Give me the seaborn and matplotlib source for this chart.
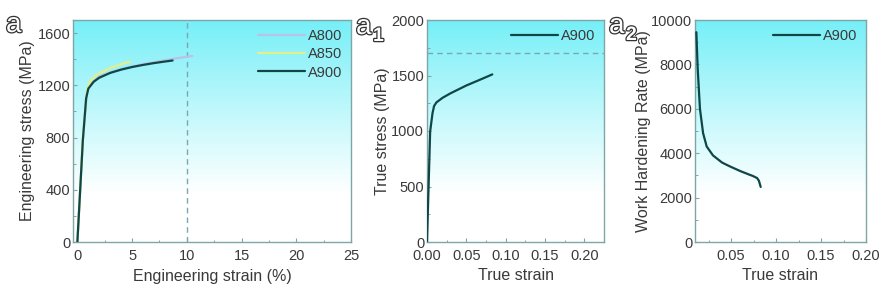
import numpy as np
import pandas as pd
import matplotlib
matplotlib.use("Agg")
import matplotlib.pyplot as plt
import matplotlib.patheffects as pe
from matplotlib.colors import LinearSegmentedColormap
from matplotlib.ticker import AutoMinorLocator
import seaborn as sns

# ---- data ----
eng_strain_a800 = [0, 0.5, 0.85, 1.1, 2.0, 4.0, 6.0, 8.0, 9.0, 10.5]
eng_stress_a800 = [0, 780, 1130, 1200, 1270, 1325, 1362, 1392, 1406, 1425]
eng_strain_a850 = [0, 0.5, 0.85, 1.1, 1.5, 2.0, 3.0, 4.0, 4.8]
eng_stress_a850 = [0, 790, 1150, 1222, 1262, 1292, 1332, 1362, 1382]
eng_strain_a900 = [0, 0.5, 0.8, 1.0, 1.5, 2.0, 3.0, 4.0, 5.0, 6.0, 7.0, 8.0, 8.7]
eng_stress_a900 = [0, 780, 1100, 1175, 1228, 1258, 1295, 1320, 1340, 1356, 1370, 1382, 1390]

true_strain_a900 = [0, 0.004, 0.007, 0.009, 0.012, 0.02, 0.03, 0.05, 0.07, 0.083]
true_stress_a900 = [0, 995, 1160, 1225, 1258, 1300, 1340, 1410, 1470, 1510]

whr_strain_a900 = [0.0115, 0.013, 0.0155, 0.019, 0.023, 0.03, 0.04, 0.048, 0.06, 0.07, 0.0745, 0.079, 0.081, 0.083]
whr_rate_a900 = [9450, 7800, 6000, 4900, 4300, 3900, 3580, 3420, 3200, 3040, 2970, 2880, 2760, 2480]

eng_xticks = [0, 5, 10, 15, 20, 25]
eng_yticks = [0, 400, 800, 1200, 1600]
true_xticks = [0.00, 0.05, 0.10, 0.15, 0.20]
true_yticks = [0, 500, 1000, 1500, 2000]
whr_xticks = [0.05, 0.10, 0.15, 0.20]
whr_yticks = [0, 2000, 4000, 6000, 8000, 10000]

sns.set_style("ticks")
plt.rcParams['font.family'] = ['Liberation Sans', 'DejaVu Sans']

SPINE = "#7fa6a6"
TXT = "#3a3a3a"
LINE = "#0f4646"
palette = {"A800": "#b9c2e8", "A850": "#e2f08a", "A900": LINE}
TICK_FS = 10.5
LAB_FS = 11.5

fig = plt.figure(figsize=(8.85, 2.95), dpi=100)
W, H = 885, 295
def add_ax(x0, x1, y0=20, y1=242):
    return fig.add_axes([x0 / W, 1 - y1 / H, (x1 - x0) / W, (y1 - y0) / H])

ax1 = add_ax(73, 351)
ax2 = add_ax(427, 604)
ax3 = add_ax(695, 866)

cmap = LinearSegmentedColormap.from_list(
    "cy", [(0.0, "#ffffff"), (0.22, "#ffffff"), (0.55, "#c8f9fc"), (1.0, "#76eff7")])
grad = np.linspace(0, 1, 256).reshape(-1, 1)

def style(ax):
    ax.imshow(grad, aspect="auto", cmap=cmap, origin="lower",
              extent=[0, 1, 0, 1], transform=ax.transAxes, zorder=0)
    for s in ax.spines.values():
        s.set_color(SPINE)
        s.set_linewidth(1.0)
    ax.tick_params(direction="in", colors=SPINE, labelcolor=TXT, labelsize=TICK_FS,
                   length=3, width=0.8, pad=2)
    ax.tick_params(axis="x", pad=5)
    ax.tick_params(which="minor", direction="in", colors=SPINE, length=1.8, width=0.7)
    ax.xaxis.set_minor_locator(AutoMinorLocator(2))
    ax.yaxis.set_minor_locator(AutoMinorLocator(2))

def legend(ax, **kw):
    leg = ax.legend(frameon=False, loc="upper right", fontsize=10.5, handlelength=3.2,
                    handletextpad=0.2, borderaxespad=0.2, labelspacing=0.3, **kw)
    for t in leg.get_texts():
        t.set_color(TXT)

# Panel a
df1 = pd.concat([
    pd.DataFrame({"x": eng_strain_a800, "y": eng_stress_a800, "s": "A800"}),
    pd.DataFrame({"x": eng_strain_a850, "y": eng_stress_a850, "s": "A850"}),
    pd.DataFrame({"x": eng_strain_a900, "y": eng_stress_a900, "s": "A900"}),
])
style(ax1)
sns.lineplot(data=df1, x="x", y="y", hue="s", palette=palette, sort=False,
             estimator=None, lw=1.6, ax=ax1, zorder=3)
ax1.axvline(10, color="#7aa8b0", ls=(0, (4, 3)), lw=1.0, zorder=2)
ax1.set_xlim(-0.4, 25)
ax1.set_ylim(0, 1700)
ax1.set_xticks(eng_xticks)
ax1.set_yticks(eng_yticks)
ax1.set_xlabel("Engineering strain (%)", fontsize=LAB_FS, color=TXT, labelpad=4)
ax1.set_ylabel("Engineering stress (MPa)", fontsize=LAB_FS, color=TXT, labelpad=2)
legend(ax1)

# Panel a1
df2 = pd.DataFrame({"x": true_strain_a900, "y": true_stress_a900, "s": "A900"})
style(ax2)
sns.lineplot(data=df2, x="x", y="y", hue="s", palette=palette, sort=False,
             estimator=None, lw=1.6, ax=ax2, zorder=3)
ax2.axhline(1700, color="#7aa8b0", ls=(0, (4, 3)), lw=1.0, zorder=2)
ax2.set_xlim(0, 0.225)
ax2.set_ylim(0, 2000)
ax2.set_xticks(true_xticks)
ax2.set_xticklabels([f"{v:.2f}" for v in true_xticks])
ax2.set_yticks(true_yticks)
ax2.set_xlabel("True strain", fontsize=LAB_FS, color=TXT, labelpad=4)
ax2.set_ylabel("True stress (MPa)", fontsize=LAB_FS, color=TXT, labelpad=1)
legend(ax2)

# Panel a2
df3 = pd.DataFrame({"x": whr_strain_a900, "y": whr_rate_a900, "s": "A900"})
style(ax3)
sns.lineplot(data=df3, x="x", y="y", hue="s", palette=palette, sort=False,
             estimator=None, lw=1.6, ax=ax3, zorder=3)
ax3.set_xlim(0.01, 0.2)
ax3.set_ylim(0, 10000)
ax3.set_xticks(whr_xticks)
ax3.set_xticklabels([f"{v:.2f}" for v in whr_xticks])
ax3.set_yticks(whr_yticks)
ax3.set_xlabel("True strain", fontsize=LAB_FS, color=TXT, labelpad=4)
ax3.set_ylabel("Work Hardening Rate (MPa)", fontsize=LAB_FS, color=TXT, labelpad=0)
legend(ax3)

# Panel labels (outlined)
outline = [pe.withStroke(linewidth=1.8, foreground="#333333")]
def plabel(x, y, main, sub=None):
    fig.text(x / W, 1 - y / H, main, fontsize=20, color="white",
             path_effects=outline, ha="left", va="baseline")
    if sub:
        fig.text((x + 17) / W, 1 - (y + 7) / H, sub, fontsize=14, color="white",
                 path_effects=outline, ha="left", va="baseline", fontweight="bold")

plabel(6, 32, "a")
plabel(356, 34, "a", "1")
plabel(609, 33, "a", "2")

fig.savefig("out.png", dpi=100)
